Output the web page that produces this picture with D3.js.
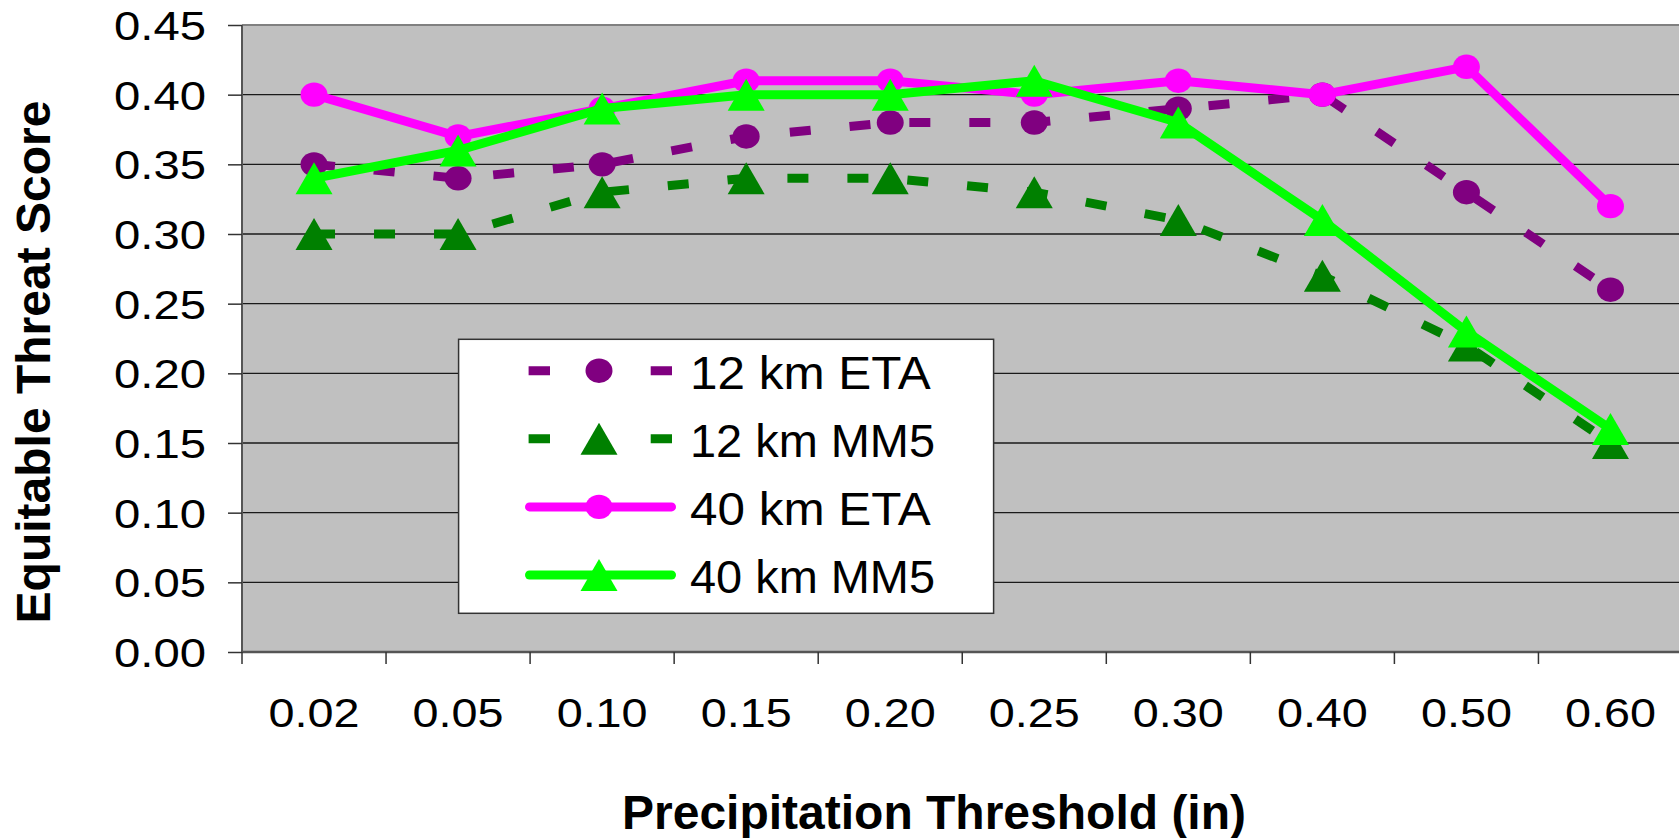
<!DOCTYPE html>
<html>
<head>
<meta charset="utf-8">
<script src="https://cdn.jsdelivr.net/npm/d3@7"></script>
<style>
  html, body { margin: 0; padding: 0; background: #fff; }
  svg { display: block; font-family: "Liberation Sans", Arial, sans-serif; }
</style>
</head>
<body>
<svg id="chart" width="1679" height="838"></svg>
<script>
// ---- data ----
const categories = ["0.02", "0.05", "0.10", "0.15", "0.20", "0.25", "0.30", "0.40", "0.50", "0.60"];
const eta12 = [0.35, 0.34, 0.35, 0.37, 0.38, 0.38, 0.39, 0.40, 0.33, 0.26];
const mm512 = [0.30, 0.30, 0.33, 0.34, 0.34, 0.33, 0.31, 0.27, 0.22, 0.15];
const eta40 = [0.40, 0.37, 0.39, 0.41, 0.41, 0.40, 0.41, 0.40, 0.42, 0.32];
const mm540 = [0.34, 0.36, 0.39, 0.40, 0.40, 0.41, 0.38, 0.31, 0.23, 0.16];
const yTicks = [0.00, 0.05, 0.10, 0.15, 0.20, 0.25, 0.30, 0.35, 0.40, 0.45];
const seriesNames = ["12 km ETA", "12 km MM5", "40 km ETA", "40 km MM5"];
const yTitle = "Equitable Threat Score";
const xTitle = "Precipitation Threshold (in)";

// ---- styles ----
const series = [
  { name: seriesNames[0], values: eta12, color: "#800080", dashed: true,  marker: "circle" },
  { name: seriesNames[1], values: mm512, color: "#008000", dashed: true,  marker: "triangle" },
  { name: seriesNames[2], values: eta40, color: "#FF00FF", dashed: false, marker: "circle" },
  { name: seriesNames[3], values: mm540, color: "#00FF00", dashed: false, marker: "triangle" }
];

const svg = d3.select("#chart");
const plot = { left: 242, top: 25, right: 1682.5, bottom: 652 };

const x = d3.scaleBand().domain(categories).range([plot.left, plot.right]).padding(0);
const y = d3.scaleLinear().domain([0, 0.45]).range([plot.bottom, plot.top]);
const cx = c => x(c) + x.bandwidth() / 2;

// plot background
svg.append("rect")
  .attr("x", plot.left).attr("y", plot.top)
  .attr("width", plot.right - plot.left).attr("height", plot.bottom - plot.top)
  .attr("fill", "#C0C0C0");

// gridlines
svg.append("g").selectAll("line")
  .data(yTicks.filter(t => t > 0 && t < 0.45))
  .join("line")
  .attr("x1", plot.left).attr("x2", plot.right)
  .attr("y1", d => y(d)).attr("y2", d => y(d))
  .attr("stroke", "#1a1a1a").attr("stroke-width", 1.4);

// plot border (top / left)
svg.append("line").attr("x1", plot.left).attr("x2", plot.right)
  .attr("y1", y(0.45)).attr("y2", y(0.45))
  .attr("stroke", "#808080").attr("stroke-width", 2);
svg.append("line").attr("x1", plot.left).attr("x2", plot.left)
  .attr("y1", plot.top).attr("y2", plot.bottom)
  .attr("stroke", "#555").attr("stroke-width", 2);

// Y axis
const yAxis = d3.axisLeft(y).tickValues(yTicks).tickFormat(d3.format(".2f")).tickSize(14).tickPadding(0);
const gy = svg.append("g").attr("transform", `translate(${plot.left},0)`).call(yAxis);
gy.select(".domain").remove();
gy.selectAll(".tick line").attr("stroke", "#333").attr("stroke-width", 1.5);
gy.selectAll(".tick text")
  .attr("x", -36).attr("dy", "0.36em")
  .attr("textLength", 92).attr("lengthAdjust", "spacingAndGlyphs")
  .attr("font-size", 40).attr("fill", "#000")
  .attr("font-family", "'Liberation Sans', Arial, sans-serif");

// X axis: labels at band centres, ticks at band boundaries
const gx = svg.append("g").attr("transform", `translate(0,${plot.bottom})`);
gx.append("line").attr("x1", plot.left).attr("x2", plot.right).attr("y1", 0).attr("y2", 0)
  .attr("stroke", "#555").attr("stroke-width", 2.5);
const bounds = categories.map(c => x(c)).concat([x.range()[1]]);
gx.selectAll("line.bt").data(bounds).join("line").attr("class", "bt")
  .attr("x1", d => d).attr("x2", d => d).attr("y1", 0).attr("y2", 12)
  .attr("stroke", "#333").attr("stroke-width", 1.5);
gx.selectAll("text.xl").data(categories).join("text").attr("class", "xl")
  .attr("x", d => cx(d)).attr("y", 75)
  .attr("textLength", 91).attr("lengthAdjust", "spacingAndGlyphs")
  .attr("text-anchor", "middle").attr("font-size", 40).attr("fill", "#000")
  .text(d => d);

// Series
const line = d3.line().x((v, i) => cx(categories[i])).y(v => y(v));
const triPath = (px, py, w, h) => `M${px},${py - h / 2}L${px + w / 2},${py + h / 2}L${px - w / 2},${py + h / 2}Z`;

function drawMarker(g, px, py, s) {
  if (s.marker === "circle") {
    g.append("ellipse").attr("cx", px).attr("cy", py).attr("rx", 13.5).attr("ry", 12.2).attr("fill", s.color);
  } else {
    g.append("path").attr("d", triPath(px, py, 37, 32)).attr("fill", s.color);
  }
}

series.forEach(s => {
  const g = svg.append("g");
  g.append("path").datum(s.values).attr("d", line)
    .attr("fill", "none").attr("stroke", s.color).attr("stroke-width", 9)
    .attr("stroke-linejoin", s.dashed ? "miter" : "round")
    .attr("stroke-linecap", s.dashed ? "butt" : "round")
    .attr("stroke-dasharray", s.dashed ? "21 39" : null);
  s.values.forEach((v, i) => drawMarker(g, cx(categories[i]), y(v), s));
});

// Legend
const lg = svg.append("g");
const leg = { x: 458.6, y: 339.3, w: 535, h: 274, row0: 370.7, step: 68.1 };
lg.append("rect").attr("x", leg.x).attr("y", leg.y).attr("width", leg.w).attr("height", leg.h)
  .attr("fill", "#fff").attr("stroke", "#333").attr("stroke-width", 1.5);
series.forEach((s, i) => {
  const ry = leg.row0 + i * leg.step;
  const row = lg.append("g");
  if (s.dashed) {
    row.append("line").attr("x1", 528.6).attr("x2", 672).attr("y1", ry).attr("y2", ry)
      .attr("stroke", s.color).attr("stroke-width", 9).attr("stroke-dasharray", "21.4 100.7 21.4");
  } else {
    row.append("line").attr("x1", 529.5).attr("x2", 671.5).attr("y1", ry).attr("y2", ry)
      .attr("stroke", s.color).attr("stroke-width", 9).attr("stroke-linecap", "round");
  }
  drawMarker(row, 599, ry, s);
  row.append("text").attr("x", 690).attr("y", ry + 18.4)
    .attr("textLength", /MM5/.test(s.name) ? 245 : 240.7).attr("lengthAdjust", "spacingAndGlyphs")
    .attr("font-size", 45.5).attr("fill", "#000").text(s.name);
});

// Axis titles
svg.append("text").attr("transform", "translate(50,362) rotate(-90)")
  .attr("text-anchor", "middle").attr("font-size", 48).attr("font-weight", "bold").attr("fill", "#000")
  .text(yTitle);
svg.append("text").attr("x", 934).attr("y", 829)
  .attr("text-anchor", "middle").attr("font-size", 48).attr("font-weight", "bold").attr("fill", "#000")
  .text(xTitle);
</script>
</body>
</html>
